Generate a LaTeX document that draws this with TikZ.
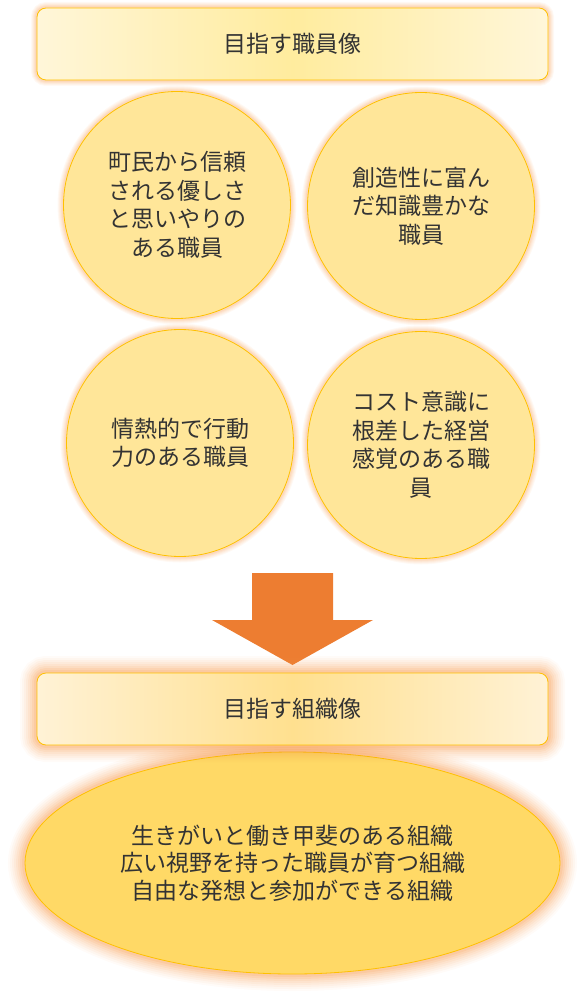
\documentclass[tikz,border=0pt]{standalone}
\usepackage{fontspec}
\setmainfont{Noto Sans CJK JP}
\usetikzlibrary{shapes.geometric}
\definecolor{txt}{HTML}{333333}
\definecolor{glowc}{HTML}{F79646}
\definecolor{edgec}{HTML}{FFC000}
\definecolor{circfill}{HTML}{FFE699}
\definecolor{ellfill}{HTML}{FFD966}
\definecolor{arrowc}{HTML}{ED7D31}
\definecolor{boxlight}{HTML}{FFF6D9}
\definecolor{boxmid}{HTML}{FFEC9E}
\definecolor{boxlightB}{HTML}{FFF2D6}
\definecolor{boxmidB}{HTML}{FFE08F}
\tikzset{
  glowsoft/.style={
    preaction={draw=glowc,draw opacity=0.06,line width=12pt},
    preaction={draw=glowc,draw opacity=0.07,line width=10pt},
    preaction={draw=glowc,draw opacity=0.08,line width=8pt},
    preaction={draw=glowc,draw opacity=0.10,line width=6pt},
    preaction={draw=glowc,draw opacity=0.12,line width=4pt}},
  glowstrong/.style={
    preaction={draw=glowc,draw opacity=0.04,line width=34pt},
    preaction={draw=glowc,draw opacity=0.05,line width=30pt},
    preaction={draw=glowc,draw opacity=0.06,line width=26pt},
    preaction={draw=glowc,draw opacity=0.07,line width=22pt},
    preaction={draw=glowc,draw opacity=0.08,line width=18pt},
    preaction={draw=glowc,draw opacity=0.10,line width=14pt},
    preaction={draw=glowc,draw opacity=0.12,line width=10pt},
    preaction={draw=glowc,draw opacity=0.14,line width=6pt}},
  lbl/.style={text=txt,align=center,font=\fontsize{23}{28.5}\selectfont},
  topbox/.style={lbl,glowsoft,rectangle,rounded corners=9pt,draw=edgec,line width=0.8pt,
    minimum width=511pt,minimum height=72pt,inner sep=0pt,
    left color=boxlight,right color=boxlight,middle color=boxmid},
  orgbox/.style={lbl,glowstrong,rectangle,rounded corners=9pt,draw=edgec,line width=0.8pt,
    minimum width=511pt,minimum height=72pt,inner sep=0pt,
    left color=boxlightB,right color=boxlightB,middle color=boxmidB},
  bubble/.style={lbl,glowsoft,circle,draw=edgec,line width=0.8pt,fill=circfill,
    minimum size=227pt,inner sep=0pt},
  goal/.style={lbl,glowstrong,ellipse,draw=edgec,line width=0.8pt,fill=ellfill,
    minimum width=535pt,minimum height=222pt,inner sep=0pt,font=\fontsize{23}{27.5}\selectfont},
}
\begin{document}
\begin{tikzpicture}[x=1pt,y=-1pt]
\useasboundingbox (0,0) rectangle (587,1000);
\node[topbox] (top) at (292.5,44) {目指す職員像};
\node[bubble] (c1) at (177,205) {町民から信頼\\される優しさ\\と思いやりの\\ある職員};
\node[bubble] (c2) at (421,206) {創造性に富ん\\だ知識豊かな\\職員};
\node[bubble] (c3) at (180,443) {情熱的で行動\\力のある職員};
\node[bubble] (c4) at (421,445) {コスト意識に\\根差した経営\\感覚のある職\\員};
\fill[arrowc] (252,573) -- (333,573) -- (333,620) -- (373,620) -- (292.5,665) -- (212,620) -- (252,620) -- cycle;
\node[goal] (ell) at (292.5,863) {生きがいと働き甲斐のある組織\\広い視野を持った職員が育つ組織\\自由な発想と参加ができる組織};
\node[orgbox] (org) at (292.5,709) {目指す組織像};
\end{tikzpicture}
\end{document}
